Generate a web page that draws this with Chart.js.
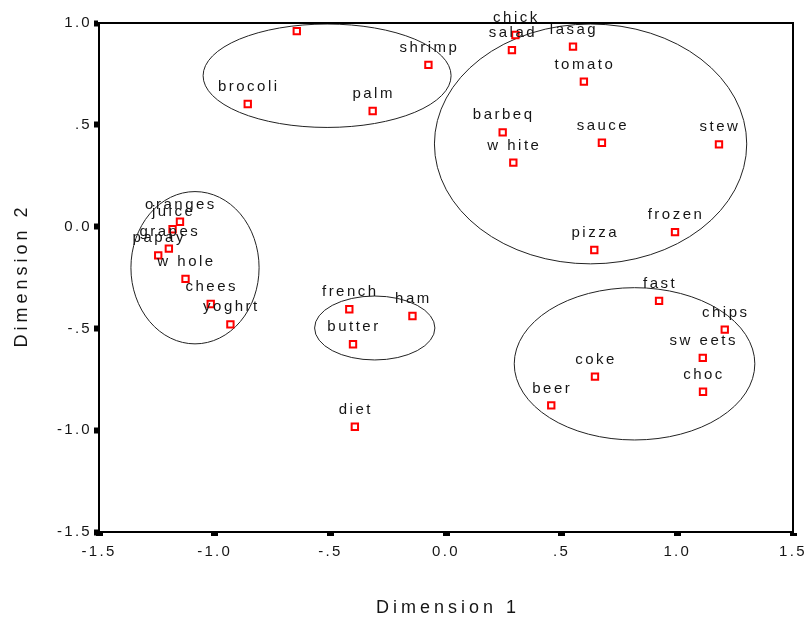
<!DOCTYPE html>
<html>
<head>
<meta charset="utf-8">
<title>Dimension plot</title>
<script src="https://cdn.jsdelivr.net/npm/chart.js@4/dist/chart.umd.min.js"></script>
<style>
  body { margin: 0; background: #fff; }
  #wrap { width: 805px; height: 620px; }
</style>
</head>
<body>
<div id="wrap"><canvas id="plot" width="805" height="620"></canvas></div>
<script>
// food names (labels drawn above each point)
var foods = ['chick', 'salad', 'lasag', 'tomato', 'shrimp', '', 'brocoli', 'palm',
  'barbeq', 'sauce', 'stew', 'w hite', 'frozen', 'pizza',
  'oranges', 'juice', 'grapes', 'papay', 'w hole', 'chees', 'yoghrt',
  'french', 'ham', 'butter', 'diet',
  'fast', 'chips', 'sw eets', 'coke', 'choc', 'beer'];
var dim1 = [0.30, 0.285, 0.549, 0.596, -0.076, -0.645, -0.857, -0.317,
  0.245, 0.674, 1.18, 0.291, 0.99, 0.641,
  -1.150, -1.182, -1.198, -1.244, -1.126, -1.017, -0.932,
  -0.418, -0.145, -0.402, -0.394,
  0.921, 1.205, 1.11, 0.644, 1.111, 0.455];
var dim2 = [0.941, 0.867, 0.884, 0.712, 0.794, 0.96, 0.602, 0.568,
  0.463, 0.412, 0.404, 0.314, -0.027, -0.115,
  0.024, -0.013, -0.108, -0.141, -0.257, -0.380, -0.480,
  -0.406, -0.439, -0.578, -0.983,
  -0.365, -0.506, -0.645, -0.737, -0.811, -0.878];

// cluster ellipses, in data units
var ellCx = [-0.514, 0.625, -1.085, -0.308, 0.815];
var ellCy = [0.741, 0.406, -0.202, -0.498, -0.674];
var ellRx = [0.536, 0.675, 0.277, 0.260, 0.520];
var ellRy = [0.254, 0.589, 0.374, 0.157, 0.374];

var tickVals = [-1.5, -1.0, -0.5, 0.0, 0.5, 1.0, 1.5];
var xTitle = 'Dimension 1';
var yTitle = 'Dimension 2';

var pts = [];
for (var i = 0; i < foods.length; i++) {
  pts.push({x: dim1[i], y: dim2[i]});
}

// spss style: "-.5", "0.0", ".5"
function fmt(v) {
  var a = Math.abs(v).toFixed(1);
  if (Math.abs(v) < 1 && v != 0) a = a.slice(1);
  return (v < 0 ? '-' : '') + a;
}

var txt = '#151515';

var extras = {
  id: 'extras',
  beforeDraw: function(chart) {
    chart.ctx.letterSpacing = '2.3px';
  },
  beforeDatasetsDraw: function(chart) {
    var ctx = chart.ctx, xs = chart.scales.x, ys = chart.scales.y;
    ctx.save();
    ctx.strokeStyle = '#222';
    ctx.lineWidth = 1;
    for (var k = 0; k < ellCx.length; k++) {
      var cx = xs.getPixelForValue(ellCx[k]);
      var cy = ys.getPixelForValue(ellCy[k]);
      var rx = Math.abs(xs.getPixelForValue(ellCx[k] + ellRx[k]) - cx);
      var ry = Math.abs(ys.getPixelForValue(ellCy[k] + ellRy[k]) - cy);
      ctx.beginPath();
      ctx.ellipse(cx, cy, rx, ry, 0, 0, Math.PI * 2);
      ctx.stroke();
    }
    ctx.restore();
  },
  afterDatasetsDraw: function(chart) {
    var ctx = chart.ctx;
    var meta = chart.getDatasetMeta(0);
    ctx.save();
    ctx.font = '15px "Liberation Sans", Arial, sans-serif';
    ctx.letterSpacing = '2.5px';
    ctx.fillStyle = txt;
    ctx.textAlign = 'center';
    ctx.textBaseline = 'middle';
    for (var i = 0; i < meta.data.length; i++) {
      var p = meta.data[i];
      ctx.fillText(foods[i], p.x + 1, p.y - 17);
    }
    ctx.restore();
  },
  afterDraw: function(chart) {
    var ctx = chart.ctx, a = chart.chartArea;
    ctx.save();
    // box round the plot
    ctx.strokeStyle = '#000';
    ctx.lineWidth = 2;
    ctx.strokeRect(a.left, a.top, a.right - a.left, a.bottom - a.top);
    // axis titles
    ctx.font = '18px "Liberation Sans", Arial, sans-serif';
    ctx.letterSpacing = '4px';
    ctx.fillStyle = txt;
    ctx.textAlign = 'center';
    ctx.textBaseline = 'middle';
    ctx.fillText(xTitle, (a.left + a.right) / 2 + 2, 608);
    ctx.translate(22, (a.top + a.bottom) / 2);
    ctx.rotate(-Math.PI / 2);
    ctx.fillText(yTitle, 2, 0);
    ctx.restore();
  }
};

var tickFont = {family: '"Liberation Sans", Arial, sans-serif', size: 15};

var ctx = document.getElementById('plot').getContext('2d');
var chart = new Chart(ctx, {
  type: 'scatter',
  data: {
    datasets: [{
      data: pts,
      pointStyle: 'rect',
      pointRadius: 4.5,
      pointHoverRadius: 4.5,
      borderColor: '#ff0000',
      backgroundColor: '#ffffff',
      borderWidth: 2
    }]
  },
  options: {
    responsive: false,
    animation: false,
    devicePixelRatio: 1,
    layout: {padding: {left: 0, top: 23, right: 12, bottom: 0}},
    plugins: {legend: {display: false}, tooltip: {enabled: false}},
    scales: {
      x: {
        type: 'linear', min: -1.5, max: 1.5,
        afterBuildTicks: function(s) { s.ticks = tickVals.map(function(v) { return {value: v}; }); },
        afterFit: function(s) { s.height = 88; s.paddingLeft = 0; s.paddingRight = 0; },
        ticks: {callback: fmt, font: tickFont, color: txt, padding: 7, maxRotation: 0, autoSkip: false},
        grid: {drawOnChartArea: false, drawTicks: true, tickLength: 4, tickWidth: 7, tickColor: '#000'},
        border: {display: true, color: '#000', width: 2}
      },
      y: {
        type: 'linear', min: -1.5, max: 1.0,
        afterBuildTicks: function(s) {
          s.ticks = tickVals.filter(function(v) { return v <= 1.0; }).map(function(v) { return {value: v}; });
        },
        afterFit: function(s) { s.width = 99; s.paddingTop = 0; s.paddingBottom = 0; },
        ticks: {callback: fmt, font: tickFont, color: txt, padding: 2, autoSkip: false},
        grid: {drawOnChartArea: false, drawTicks: true, tickLength: 5, tickWidth: 6, tickColor: '#000'},
        border: {display: true, color: '#000', width: 2}
      }
    }
  },
  plugins: [extras]
});
</script>
</body>
</html>
